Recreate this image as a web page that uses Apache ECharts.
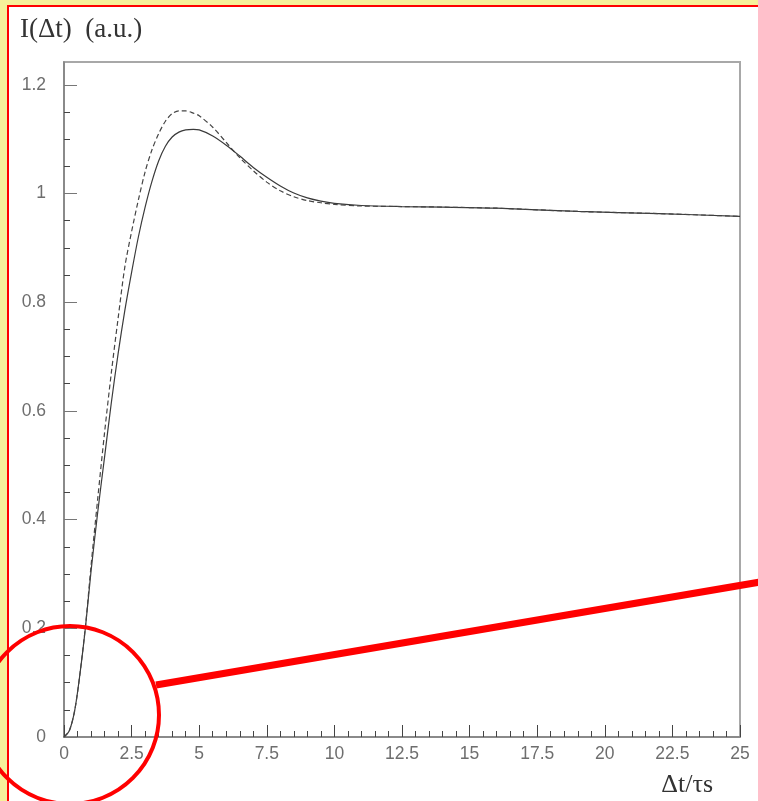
<!DOCTYPE html>
<html>
<head>
<meta charset="utf-8">
<script src="https://cdn.jsdelivr.net/npm/echarts@6/dist/echarts.min.js"></script>
<style>
  html, body { margin:0; padding:0; width:758px; height:801px; overflow:hidden; background:#f6f09a; }
  #frame { position:absolute; left:7px; top:5px; right:0; bottom:0; background:#fff; border-left:2px solid #ff0000; border-top:2px solid #ff0000; }
  #chart { position:absolute; left:0; top:0; width:758px; height:801px; }
</style>
</head>
<body>
<div id="frame"></div>
<div id="chart"></div>
<script>
// Δt/τs sample positions
const tValues = [0, 0.2, 0.4, 0.6, 0.8, 1.0, 1.25, 1.5, 1.75, 2.0, 2.25, 2.5, 2.75, 3.0, 3.25, 3.5, 3.75, 4.0, 4.25, 4.5, 4.78, 5.0, 5.5, 6.0, 6.5, 7.0, 7.5, 8.0, 8.5, 9.0, 9.5, 10, 11, 12.5, 14, 16, 19, 22, 25];
// solid curve I(Δt)
const solidValues = [0, 0.012, 0.05, 0.12, 0.205, 0.305, 0.415, 0.515, 0.615, 0.705, 0.785, 0.855, 0.92, 0.975, 1.022, 1.06, 1.087, 1.104, 1.113, 1.117, 1.118, 1.117, 1.106, 1.089, 1.069, 1.048, 1.03, 1.014, 1.001, 0.992, 0.986, 0.982, 0.978, 0.976, 0.975, 0.973, 0.967, 0.963, 0.958];
// dashed curve I(Δt)
const dashedValues = [0, 0.012, 0.05, 0.12, 0.207, 0.315, 0.44, 0.56, 0.67, 0.77, 0.865, 0.93, 0.988, 1.04, 1.08, 1.11, 1.133, 1.147, 1.152, 1.152, 1.148, 1.143, 1.122, 1.094, 1.066, 1.042, 1.021, 1.005, 0.994, 0.987, 0.983, 0.980, 0.977, 0.976, 0.975, 0.973, 0.967, 0.963, 0.958];
// y-axis tick labels (major) and minor tick positions
const yMajorTicks = [0, 0.2, 0.4, 0.6, 0.8, 1, 1.2];
const yMinorTicks = [0.05, 0.1, 0.15, 0.25, 0.3, 0.35, 0.45, 0.5, 0.55, 0.65, 0.7, 0.75, 0.85, 0.9, 0.95, 1.05, 1.1, 1.15];
const xTickLabels = [0, 2.5, 5, 7.5, 10, 12.5, 15, 17.5, 20, 22.5, 25];

const solidData = tValues.map((t, i) => [t, solidValues[i]]);
const dashedData = tValues.map((t, i) => [t, dashedValues[i]]);

const chart = echarts.init(document.getElementById('chart'), null, {renderer: 'canvas'});
const labelStyle = { color: '#6e6e6e', fontFamily: 'Liberation Sans, Arial, sans-serif', fontSize: 17.5 };
const axisColor = '#808080';
chart.setOption({
  backgroundColor: 'transparent',
  animation: false,
  title: [
    { text: 'I(Δt)  (a.u.)', left: 20, top: 16, padding: 0,
      textStyle: { fontFamily: 'Liberation Serif, Times New Roman, serif', fontSize: 27, fontWeight: 'normal', color: '#333' } },
    { text: 'Δt/τs', right: 45, top: 772, padding: 0,
      textStyle: { fontFamily: 'Liberation Serif, Times New Roman, serif', fontSize: 26, fontWeight: 'normal', color: '#333' } }
  ],
  grid: { left: 64, top: 62, right: 18, bottom: 64, show: true, borderColor: '#a8a8a8', borderWidth: 2, backgroundColor: 'transparent' },
  xAxis: {
    type: 'value', min: xTickLabels[0], max: xTickLabels[xTickLabels.length - 1], interval: 2.5,
    axisLine: { show: true, lineStyle: { color: axisColor, width: 1.5 } },
    axisTick: { show: true, inside: true, length: 12, lineStyle: { color: '#444', width: 1 } },
    minorTick: { show: true, splitNumber: 5, length: 6, lineStyle: { color: '#444', width: 1 } },
    splitLine: { show: false },
    axisLabel: Object.assign({ margin: 8, formatter: v => String(v) }, labelStyle)
  },
  yAxis: [
    {
      type: 'value', min: 0, max: 1.242,
      axisLine: { show: true, lineStyle: { color: axisColor, width: 1.5 } },
      axisTick: { show: true, inside: true, length: 13, customValues: yMajorTicks, lineStyle: { color: '#777', width: 1 } },
      splitLine: { show: false },
      axisLabel: Object.assign({ margin: 18, customValues: yMajorTicks, formatter: v => String(v) }, labelStyle)
    },
    {
      type: 'value', min: 0, max: 1.242, position: 'left', offset: 0,
      axisLine: { show: false },
      axisTick: { show: true, inside: true, length: 6, customValues: yMinorTicks, lineStyle: { color: '#444', width: 1 } },
      splitLine: { show: false },
      axisLabel: { show: false }
    }
  ],
  series: [
    { type: 'line', data: solidData, smooth: 0.3, showSymbol: false, symbol: 'none',
      lineStyle: { color: '#3a3a3a', width: 1.2 } },
    { type: 'line', data: dashedData, smooth: 0.3, showSymbol: false, symbol: 'none',
      lineStyle: { color: '#444', width: 1.2, type: [5, 3] } }
  ],
  graphic: [
    { type: 'circle', shape: { cx: 70, cy: 715, r: 89 }, style: { fill: 'none', stroke: '#ff0000', lineWidth: 4 }, z: 100 },
    { type: 'line', shape: { x1: 156, y1: 685, x2: 760, y2: 582 }, style: { stroke: '#ff0000', lineWidth: 7 }, z: 100 }
  ]
});
</script>
</body>
</html>
